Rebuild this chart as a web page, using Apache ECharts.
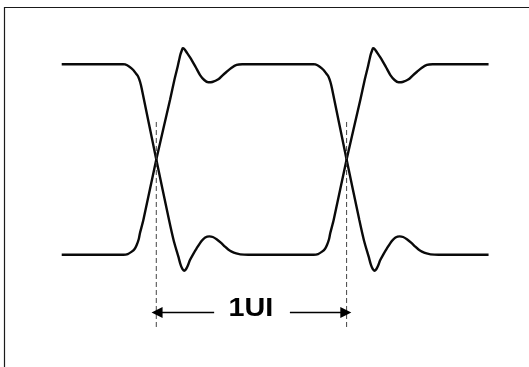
<!DOCTYPE html>
<html lang="en">
<head>
<meta charset="utf-8"/>
<title>Eye diagram - 1UI</title>
<script src="https://cdn.jsdelivr.net/npm/echarts@6/dist/echarts.min.js"></script>
<style>
    html, body { margin: 0; padding: 0; background: #fff; }
    #chart { width: 529px; height: 367px; }
</style>
</head>
<body>
<div id="chart"></div>
<script type="text/javascript">
    // time in UI (the two crossings sit at 0 and 1), level normalised to +/-1
    var crossings = [0, 1];
    var traceStart = -0.497;
    var traceEnd = 1.746;
    var levelHigh = 1;
    var levelLow = -1;

    // falling edge, time relative to its crossing
    var fallT = [-0.175, -0.164, -0.143, -0.121, -0.107, -0.095, -0.085, -0.077, 0, 0.067, 0.092, 0.116, 0.128, 0.137, 0.146,
        0.155, 0.166, 0.177, 0.194, 0.212, 0.239, 0.257, 0.279, 0.297, 0.317, 0.339, 0.361, 0.378, 0.396, 0.420, 0.441, 0.483];
    var fallV = [1, 0.998, 0.977, 0.940, 0.903, 0.870, 0.814, 0.748, 0, -0.636, -0.856, -1.021, -1.108, -1.148, -1.168,
        -1.155, -1.113, -1.056, -0.993, -0.933, -0.853, -0.819, -0.807, -0.814, -0.838, -0.874, -0.916, -0.945, -0.968, -0.987, -0.996, -1];

    // rising edge
    var riseT = [-0.173, -0.150, -0.129, -0.114, -0.103, -0.092, -0.086, -0.068, 0, 0.072, 0.095, 0.113, 0.126, 0.134, 0.139,
        0.147, 0.160, 0.186, 0.208, 0.230, 0.252, 0.273, 0.294, 0.326, 0.347, 0.370, 0.394, 0.422, 0.452, 0.483];
    var riseV = [-1, -0.993, -0.968, -0.940, -0.898, -0.835, -0.775, -0.636, 0, 0.625, 0.835, 0.982, 1.098, 1.145, 1.168,
        1.161, 1.124, 1.045, 0.966, 0.887, 0.835, 0.811, 0.814, 0.842, 0.882, 0.922, 0.961, 0.993, 1, 1];

    // 1UI marker
    var markerTop = 0.394;
    var markerBottom = -1.770;
    var arrowLevel = -1.607;
    var arrowLeft = [0.304, 0.004];
    var arrowRight = [0.702, 0.996];
    var labelText = '1UI';
    var labelPos = 0.497;
    var labelLevel = -1.576;

    function edge(ts, vs, at) {
        var pts = [];
        for (var i = 0; i < ts.length; i++) {
            pts.push([at + ts[i], vs[i]]);
        }
        return pts;
    }

    // high -> low -> high
    var traceA = [[traceStart, levelHigh]]
        .concat(edge(fallT, fallV, crossings[0]))
        .concat(edge(riseT, riseV, crossings[1]))
        .concat([[traceEnd, levelHigh]]);
    // low -> high -> low
    var traceB = [[traceStart, levelLow]]
        .concat(edge(riseT, riseV, crossings[0]))
        .concat(edge(fallT, fallV, crossings[1]))
        .concat([[traceEnd, levelLow]]);

    var waveStyle = { color: '#0a0a0a', width: 2.4 };

    var series = [
        { type: 'line', data: traceA, showSymbol: false, smooth: 0.25, lineStyle: waveStyle, silent: true },
        { type: 'line', data: traceB, showSymbol: false, smooth: 0.25, lineStyle: waveStyle, silent: true }
    ];

    // dashed markers at the crossings
    crossings.forEach(function (c) {
        series.push({
            type: 'line',
            data: [[c, markerTop], [c, markerBottom]],
            showSymbol: false,
            silent: true,
            lineStyle: { color: '#444', width: 1, type: [5, 3] }
        });
    });

    // arrows
    series.push({
        type: 'line',
        data: [],
        silent: true,
        markLine: {
            silent: true,
            symbol: ['none', 'triangle'],
            symbolSize: 11,
            label: { show: false },
            lineStyle: { color: '#000', width: 1.3, type: 'solid' },
            data: [
                [{ coord: [arrowLeft[0], arrowLevel] }, { coord: [arrowLeft[1], arrowLevel] }],
                [{ coord: [arrowRight[0], arrowLevel] }, { coord: [arrowRight[1], arrowLevel] }]
            ]
        }
    });

    var myChart = echarts.init(document.getElementById('chart'));
    var option = {
        backgroundColor: '#fff',
        animation: false,
        grid: { left: 0, right: 0, top: 0, bottom: 0 },
        xAxis: { type: 'value', min: -0.8213, max: 1.9585, show: false },
        yAxis: { type: 'value', min: -2.1796, max: 1.6754, show: false },
        series: series
    };
    myChart.setOption(option);

    // frame and label (label placed through the axes, glyphs drawn a little wide like the original)
    var labelPx = myChart.convertToPixel({ gridIndex: 0 }, [labelPos, labelLevel]);
    myChart.setOption({
        graphic: [{
            type: 'rect',
            shape: { x: 4.5, y: 7.5, width: 600, height: 400 },
            style: { fill: 'none', stroke: '#1a1a1a', lineWidth: 1.2 },
            silent: true
        }, {
            type: 'text',
            x: labelPx[0],
            y: labelPx[1],
            scaleX: 1.15,
            silent: true,
            style: {
                text: labelText,
                fill: '#000',
                fontSize: 25,
                fontWeight: 'bold',
                fontFamily: '"Liberation Sans", Arial, sans-serif',
                align: 'center',
                verticalAlign: 'middle'
            }
        }]
    });
</script>
</body>
</html>
